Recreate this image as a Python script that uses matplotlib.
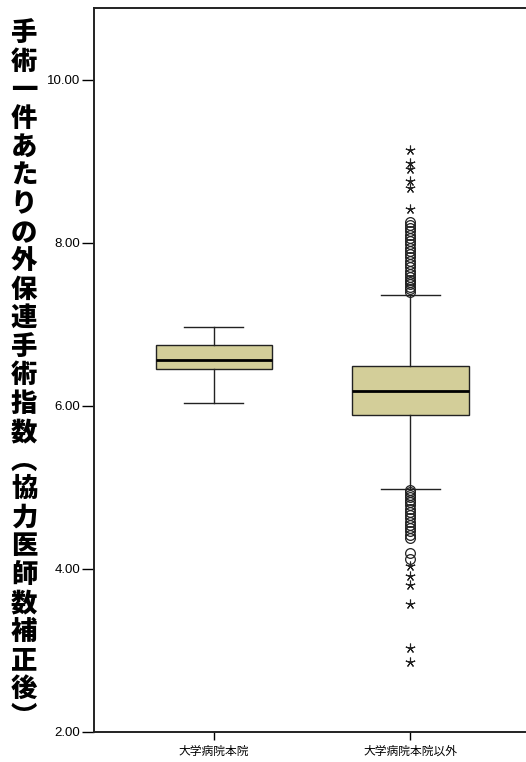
import matplotlib
matplotlib.use("Agg")
from matplotlib import pyplot as plt

# group names and box statistics
groups = ["大学病院本院", "大学病院本院以外"]
q1 = [6.45, 5.89]
med = [6.56, 6.18]
q3 = [6.75, 6.49]
whislo = [6.04, 4.98]
whishi = [6.97, 7.36]

# outliers of the second group (circles = outliers, stars = extremes)
circles = [8.26, 8.22, 8.18, 8.14, 8.10, 8.06, 8.02, 7.98, 7.94, 7.90, 7.86,
           7.82, 7.78, 7.74, 7.70, 7.66, 7.62, 7.58, 7.55, 7.52, 7.49, 7.46,
           7.43, 7.40,
           4.97, 4.94, 4.91, 4.88, 4.85, 4.82, 4.78, 4.74, 4.70, 4.66, 4.62,
           4.58, 4.54, 4.50, 4.46, 4.42, 4.38, 4.20, 4.12]
stars = [9.14, 8.98, 8.90, 8.76, 8.67, 8.41, 4.03, 3.91, 3.80, 3.57, 3.03, 2.86]

yticks = [2.0, 4.0, 6.0, 8.0, 10.0]
ylabel = "手術一件あたりの外保連手術指数︵協力医師数補正後︶"

W, H = 526, 762
fig = plt.figure(figsize=(W / 100, H / 100), dpi=100)
ax = fig.add_axes([94 / W, 30 / H, 431 / W, 724 / H])

stats = []
for i in range(len(groups)):
    stats.append({"label": groups[i], "q1": q1[i], "med": med[i], "q3": q3[i],
                  "whislo": whislo[i], "whishi": whishi[i], "fliers": []})

ax.bxp(stats, positions=[1, 2], widths=0.595, patch_artist=True,
       showfliers=False,
       boxprops=dict(facecolor="#d3ce99", edgecolor="#222222", linewidth=1.0),
       medianprops=dict(color="black", linewidth=2.0),
       whiskerprops=dict(color="#222222", linewidth=1.0),
       capprops=dict(color="#222222", linewidth=1.0),
       capwidths=0.3)

ax.plot([2] * len(circles), circles, linestyle="none", marker="o",
        markersize=7, markerfacecolor="none", markeredgecolor="#222222",
        markeredgewidth=0.9, zorder=3)
ax.plot([2] * len(stars), stars, linestyle="none", marker=(5, 2, 0),
        markersize=7, color="#222222", markeredgewidth=0.8, zorder=3)

ax.set_xlim(0.389, 2.585)
ax.set_ylim(2.0, 10.88)
ax.set_yticks(yticks)
ax.set_yticklabels([f"{v:.2f}" for v in yticks],
                   family=["Liberation Sans Narrow", "Liberation Sans"],
                   fontsize=9.5)
ax.set_xticks([1, 2])
ax.set_xticklabels(groups, family=["Noto Sans CJK JP", "DejaVu Sans"],
                   fontsize=8.5)
ax.tick_params(axis="y", length=9, width=1.0, pad=1)
ax.tick_params(axis="x", length=6, width=1.0, pad=3)

for s in ["left", "top", "bottom"]:
    ax.spines[s].set_linewidth(1.4)
    ax.spines[s].set_color("#222222")
ax.spines["right"].set_visible(False)

# vertical axis title, one upright character per line
n = len(ylabel)
for i, ch in enumerate(ylabel):
    y = 33 + i * (717 - 33) / (n - 1)
    fig.text(24 / W, 1 - y / H, ch, ha="center", va="center",
             family=["Noto Sans CJK JP", "DejaVu Sans"], fontweight="heavy",
             fontsize=19)

fig.savefig("out.png", dpi=100)
